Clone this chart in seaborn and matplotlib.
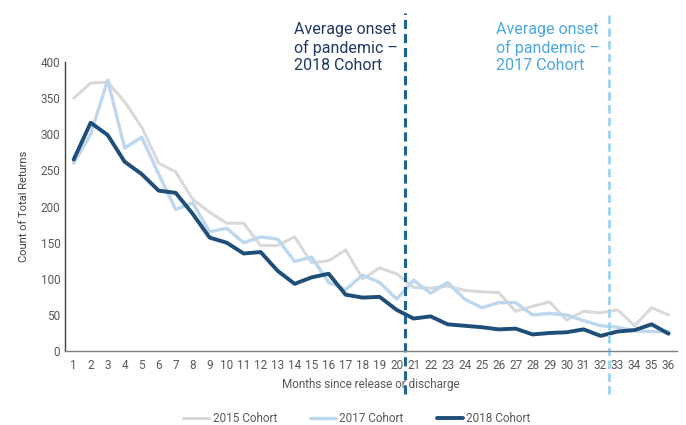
import pandas as pd
import numpy as np
import matplotlib.pyplot as plt
import seaborn as sns

# data
months = list(range(1, 37))
cohort_2015 = [350, 371, 372, 345, 310, 260, 248, 210, 192, 177, 177, 146,
               146, 158, 122, 125, 140, 100, 115, 107, 88, 87, 90, 84,
               82, 81, 55, 62, 68, 43, 55, 53, 57, 35, 60, 50]
cohort_2017 = [260, 300, 375, 281, 296, 245, 196, 205, 165, 170, 150, 158,
               155, 124, 130, 95, 85, 105, 95, 72, 98, 80, 95, 72,
               60, 67, 67, 50, 52, 50, 42, 35, 33, 28, 27, 27]
cohort_2018 = [265, 316, 299, 262, 245, 222, 219, 190, 157, 150, 135, 137,
               111, 93, 102, 107, 78, 74, 75, 57, 45, 48, 37, 35,
               33, 30, 31, 23, 25, 26, 30, 21, 27, 29, 37, 24]
cohorts = ["2015 Cohort", "2017 Cohort", "2018 Cohort"]
onset_2018 = 20.5
onset_2017 = 32.5

df = pd.DataFrame({
    "month": months * 3,
    "returns": cohort_2015 + cohort_2017 + cohort_2018,
    "cohort": np.repeat(cohorts, len(months)),
})

palette = {"2015 Cohort": "#d9d9d9", "2017 Cohort": "#bdd7ee", "2018 Cohort": "#1f4e79"}
widths = {"2015 Cohort": 2.2, "2017 Cohort": 2.4, "2018 Cohort": 2.8}

sns.set_style("white")
plt.rcParams["font.family"] = ["Roboto", "DejaVu Sans"]

fig = plt.figure(figsize=(6.86, 4.25), dpi=100)
ax = fig.add_axes([0.095, 0.174, 0.892, 0.68])

for c in cohorts:
    sns.lineplot(data=df[df["cohort"] == c], x="month", y="returns",
                 color=palette[c], linewidth=widths[c], label=c, ax=ax)

# pandemic onset markers, running past the axes
xt = ax.get_xaxis_transform()
ax.plot([onset_2018, onset_2018], [-0.15, 1.17], transform=xt, color="#1f6391",
        linestyle=(0, (3, 1.6)), linewidth=2.2, clip_on=False)
ax.plot([onset_2017, onset_2017], [-0.15, 1.17], transform=xt, color="#9dd3f0",
        linestyle=(0, (3, 1.6)), linewidth=2.0, clip_on=False)

ax.text(13.95, 1.05, "Average onset\nof pandemic –\n2018 Cohort",
        transform=xt, ha="left", va="center",
        fontsize=11.5, color="#1f3864", linespacing=1.22)
ax.text(25.85, 1.05, "Average onset\nof pandemic –\n2017 Cohort",
        transform=xt, ha="left", va="center",
        fontsize=11.5, color="#4aa8e0", linespacing=1.22)

ax.set_xlim(0.5, 36.5)
ax.set_ylim(0, 400)
ax.set_xticks(months)
ax.set_yticks(range(0, 401, 50))
ax.tick_params(axis="both", length=0, colors="#595959", labelsize=8.5)
ax.tick_params(axis="x", pad=6)
ax.set_xlabel("Months since release or discharge", fontsize=8.5, color="#595959", labelpad=4)
ax.set_ylabel("Count of Total Returns", fontsize=8, color="#404040", labelpad=8)

for s in ["top", "right"]:
    ax.spines[s].set_visible(False)
ax.spines["left"].set_color("#404040")
ax.spines["bottom"].set_color("#7f7f7f")
ax.spines["left"].set_linewidth(1.0)
ax.spines["bottom"].set_linewidth(1.0)

ax.legend(loc="lower center", bbox_to_anchor=(0.52, -0.025), bbox_transform=fig.transFigure,
          ncol=3, frameon=False, fontsize=8.5, labelcolor="#595959",
          handlelength=2.2, columnspacing=2.8, handletextpad=0.3)

plt.savefig("out.png", dpi=100)
plt.close()
